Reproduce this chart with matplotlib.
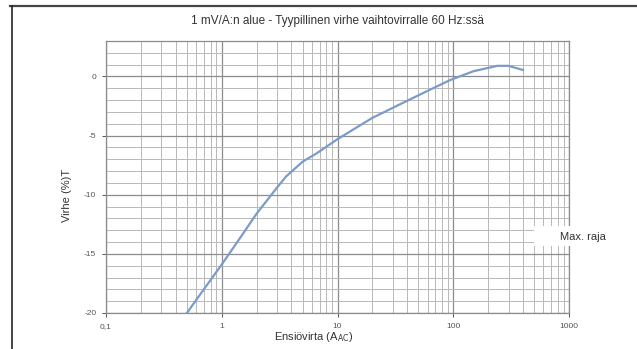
import matplotlib
matplotlib.use("Agg")
import matplotlib.pyplot as plt
from matplotlib.lines import Line2D
from matplotlib.ticker import FixedLocator, NullFormatter

# Data
current = [0.5, 0.7, 1, 1.5, 2, 3, 3.6, 5, 6.6, 10, 20, 42, 94, 150, 240, 300, 400]
error = [-20, -18.0, -15.9, -13.4, -11.6, -9.4, -8.45, -7.2, -6.5, -5.3, -3.5, -1.95, -0.3, 0.45, 0.9, 0.9, 0.55]

x_ticks = [0.1, 1, 10, 100, 1000]
x_labels = ["0,1", "1", "10", "100", "1000"]
y_ticks = [0, -5, -10, -15, -20]
y_labels = ["0", "-5", "-10", "-15", "-20"]

title = "1 mV/A:n alue - Tyypillinen virhe vaihtovirralle 60 Hz:ssä"
fonts = ["Liberation Sans Narrow", "Liberation Sans", "DejaVu Sans"]
plt.rcParams["font.family"] = fonts

fig = plt.figure(figsize=(6.37, 3.49), dpi=100)
ax = fig.add_axes([0.1664, 0.1032, 0.7269, 0.7793])

ax.plot(current, error, color="#7b9bc8", lw=1.6, zorder=3)

ax.set_xscale("log")
ax.set_xlim(0.1, 1000)
ax.set_ylim(-20, 3)

ax.xaxis.set_major_locator(FixedLocator(x_ticks))
ax.set_xticklabels(x_labels)
ax.xaxis.set_minor_locator(FixedLocator([m * d for d in [0.1, 1, 10, 100] for m in range(2, 10)]))
ax.xaxis.set_minor_formatter(NullFormatter())
ax.yaxis.set_major_locator(FixedLocator(y_ticks))
ax.set_yticklabels(y_labels)
ax.yaxis.set_minor_locator(FixedLocator(list(range(-19, 4))))

ax.grid(which="major", color="#8c8c8c", lw=0.9)
ax.grid(which="minor", color="#b8b8b8", lw=0.7)
ax.tick_params(which="major", labelsize=6, colors="#555555", length=3, width=0.7, pad=4)
ax.tick_params(which="minor", length=0)
for s in ax.spines.values():
    s.set_color("#8c8c8c")
    s.set_linewidth(0.9)

fig.text(0.529, 0.94, title, ha="center", va="center", fontsize=8.5, color="#333333")
fig.text(0.105, 0.44, "Virhe (%)T", rotation=90, ha="center", va="center", fontsize=8, color="#333333")
fig.text(0.493, 0.033, r"Ensiövirta (A$_{\mathrm{AC}}$)", ha="center", va="center", fontsize=8, color="#333333")

# legend-like box for the limit line
box = plt.Rectangle((534 / 637, 1 - 246 / 349), 103 / 637, 20 / 349,
                    transform=fig.transFigure, facecolor="white", edgecolor="none", zorder=4)
fig.add_artist(box)
fig.text(0.915, 0.322, "Max. raja", ha="center", va="center", fontsize=8, color="#333333", zorder=6)

# outer frame (top and left edges)
fig.add_artist(Line2D([10 / 637, 1], [1 - 5.5 / 349] * 2, color="#444444", lw=1.6))
fig.add_artist(Line2D([12 / 637] * 2, [0, 1 - 5.5 / 349], color="#222222", lw=1.2))

fig.savefig("out.png", dpi=100)
